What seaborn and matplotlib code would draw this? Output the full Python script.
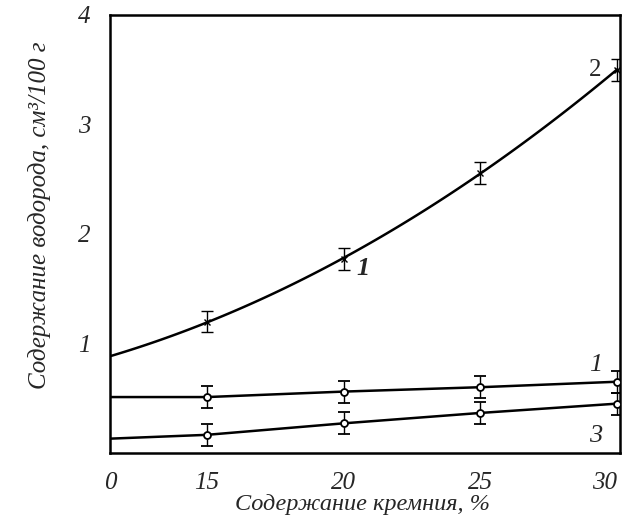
import matplotlib
matplotlib.use("Agg")
import matplotlib.pyplot as plt
import seaborn as sns
import pandas as pd
import numpy as np

# --- data ---
x_left = 11.45            # left edge of the (broken) x axis, labelled "0"
silicon = [15, 20, 25, 30]

s2_start = 0.88
s2_vals = [1.20, 1.77, 2.56, 3.50]
s2_err = [0.10, 0.10, 0.10, 0.10]

s1_start = 0.51
s1_vals = [0.51, 0.56, 0.60, 0.65]
s1_err = [0.10, 0.10, 0.10, 0.10]

s3_start = 0.13
s3_vals = [0.165, 0.27, 0.365, 0.45]
s3_err = [0.10, 0.10, 0.10, 0.10]

xtick_vals = [x_left, 15, 20, 25, 30]
xtick_labels = ["0", "15", "20", "25", "30"]
ytick_vals = [1, 2, 3, 4]
ytick_labels = ["1", "2", "3", "4"]

sns.set_theme(style="white")
plt.rcParams["font.family"] = ["Liberation Serif", "DejaVu Serif"]

fig = plt.figure(figsize=(6.28, 5.17), dpi=100)
ax = fig.add_axes([0.175, 0.124, 0.812, 0.847])

def series_df(start, vals):
    return pd.DataFrame({"x": [x_left] + silicon, "y": [start] + vals})

# curve 2: smooth fitted curve through the measured points
sns.regplot(data=series_df(s2_start, s2_vals), x="x", y="y", order=2,
            ci=None, scatter=False, ax=ax, truncate=True,
            line_kws={"color": "black", "lw": 1.8})
for start, vals in [(s1_start, s1_vals), (s3_start, s3_vals)]:
    sns.lineplot(data=series_df(start, vals), x="x", y="y", ax=ax,
                 color="black", lw=1.8, legend=False)

ax.errorbar(silicon, s2_vals, yerr=s2_err, fmt="x", color="black", ms=5,
            mew=1.0, ecolor="black", elinewidth=1.0, capsize=4, capthick=1.2,
            zorder=5)
for vals, err in [(s1_vals, s1_err), (s3_vals, s3_err)]:
    ax.errorbar(silicon, vals, yerr=err, fmt="o", color="black", ms=5,
                mfc="white", mec="black", mew=1.3, ecolor="black",
                elinewidth=1.0, capsize=4, capthick=1.2, zorder=5)

ax.set_xlim(x_left, 30.1)
ax.set_ylim(0, 4)
ax.set_xticks(xtick_vals)
ax.set_xticklabels(xtick_labels)
ax.set_yticks(ytick_vals)
ax.set_yticklabels(ytick_labels)
ax.tick_params(axis="x", direction="in", length=5, width=1, color="#444444",
               pad=14, labelsize=18)
ax.tick_params(axis="y", direction="in", length=0, pad=14, labelsize=18)
for lab in ax.get_xticklabels() + ax.get_yticklabels():
    lab.set_fontstyle("italic")
ax.get_xticklabels()[-1].set_horizontalalignment("right")

for sp in ax.spines.values():
    sp.set_visible(True)
    sp.set_color("black")
    sp.set_linewidth(1.8)

ax.set_xlabel("Содержание кремния, %", fontsize=17.5, style="italic")
ax.xaxis.set_label_coords(0.496, -0.095)
ax.set_ylabel("Содержание водорода, см³/100 г", fontsize=18, style="italic")
ax.yaxis.set_label_coords(-0.115, 0.543)

ax.text(29.2, 3.5, "2", fontsize=18, ha="center", va="center")
ax.text(20.7, 1.68, "1", fontsize=19, ha="center", va="center",
        style="italic", weight="bold")
ax.text(29.2, 0.80, "1", fontsize=19, ha="center", va="center", style="italic")
ax.text(29.2, 0.15, "3", fontsize=19, ha="center", va="center", style="italic")

fig.savefig("out.png", dpi=100)
